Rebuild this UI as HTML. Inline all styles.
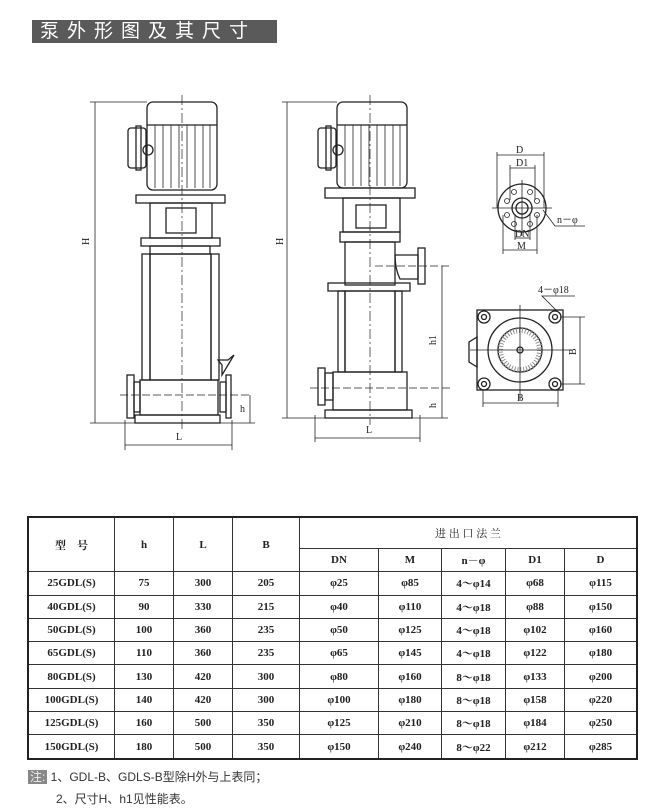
<!DOCTYPE html>
<html><head><meta charset="utf-8"><style>
body{margin:0;width:656px;height:811px;background:#fff;position:relative;overflow:hidden;font-family:"Liberation Serif","Noto Serif CJK SC",serif;}
.ban{position:absolute;left:32px;top:20px;width:245px;height:23px;background:#5a5a5a;color:#fff;font-family:"Liberation Sans","Noto Sans CJK SC",sans-serif;font-size:19px;line-height:23px;letter-spacing:8px;text-indent:8px;}
table{position:absolute;left:27px;top:516px;border-collapse:collapse;font-size:11px;font-weight:bold;color:#222;}
td{border:1px solid #333;text-align:center;padding:0;height:22.3px;}
table{border:2px solid #222;}
.n{position:absolute;left:28px;font-family:"Liberation Sans","Noto Sans CJK SC",sans-serif;font-size:12px;color:#333;}
</style></head><body>
<div class="ban">泵外形图及其尺寸</div>
<svg width="656" height="500" style="position:absolute;left:0;top:0" fill="none" stroke="#222" stroke-width="1.3" font-family="Liberation Serif" font-size="10">
<!-- Pump 1 -->
<rect x="147" y="102" width="70" height="88" rx="6"/>
<line x1="147" y1="125" x2="217" y2="125"/>
<g stroke-width="0.8"><line x1="155" y1="125" x2="155" y2="188"/><line x1="163" y1="125" x2="163" y2="188"/><line x1="171" y1="125" x2="171" y2="188"/><line x1="179" y1="125" x2="179" y2="188"/><line x1="187" y1="125" x2="187" y2="188"/><line x1="195" y1="125" x2="195" y2="188"/><line x1="203" y1="125" x2="203" y2="188"/><line x1="210" y1="125" x2="210" y2="188"/></g>
<rect x="128" y="128" width="18" height="40" rx="3"/><rect x="136" y="126" width="5" height="44"/><circle cx="148" cy="150" r="5"/>
<rect x="136" y="195" width="89" height="8"/><rect x="150" y="203" width="62" height="35"/><rect x="166" y="208" width="30" height="25"/>
<rect x="141" y="238" width="79" height="8"/><rect x="150" y="246" width="60" height="8"/>
<rect x="142" y="254" width="8" height="126"/><rect x="211" y="254" width="8" height="126"/><rect x="150" y="254" width="61" height="126"/>
<rect x="140" y="380" width="78" height="35"/><rect x="135" y="415" width="85" height="8"/>
<rect x="127" y="375" width="7" height="43"/><rect x="134" y="382" width="6" height="30"/>
<rect x="220" y="382" width="6" height="30"/><rect x="226" y="375" width="5" height="43"/>
<path d="M222 375 v-10 l-4 -5 h10 l6 -5 l-6 10 z"/>
<line x1="182" y1="95" x2="182" y2="430" stroke-dasharray="10 3 2 3" stroke-width="0.7"/>
<line x1="120" y1="395" x2="250" y2="395" stroke-dasharray="8 3" stroke-width="0.7"/>
<g stroke-width="0.8"><line x1="95" y1="102" x2="95" y2="423"/><line x1="90" y1="102" x2="147" y2="102"/><line x1="90" y1="423" x2="140" y2="423"/>
<line x1="125" y1="445" x2="232" y2="445"/><line x1="125" y1="420" x2="125" y2="450"/><line x1="232" y1="420" x2="232" y2="450"/>
<line x1="250" y1="395" x2="250" y2="423"/><line x1="220" y1="423" x2="255" y2="423"/></g>
<g fill="#222" stroke="none"><text x="89" y="245" transform="rotate(-90 89 245)">H</text><text x="176" y="440">L</text><text x="240" y="412">h</text></g>
<!-- Pump 2 -->
<rect x="337" y="102" width="70" height="86" rx="6"/>
<line x1="337" y1="125" x2="407" y2="125"/>
<g stroke-width="0.8"><line x1="345" y1="125" x2="345" y2="186"/><line x1="353" y1="125" x2="353" y2="186"/><line x1="361" y1="125" x2="361" y2="186"/><line x1="369" y1="125" x2="369" y2="186"/><line x1="377" y1="125" x2="377" y2="186"/><line x1="385" y1="125" x2="385" y2="186"/><line x1="393" y1="125" x2="393" y2="186"/><line x1="400" y1="125" x2="400" y2="186"/></g>
<rect x="318" y="128" width="18" height="40" rx="3"/><rect x="326" y="126" width="5" height="44"/><circle cx="338" cy="150" r="5"/>
<rect x="325" y="188" width="90" height="10"/><rect x="343" y="198" width="57" height="34"/><rect x="356" y="205" width="30" height="23"/>
<rect x="340" y="232" width="60" height="10"/><rect x="345" y="242" width="50" height="43"/>
<path d="M395 255 h23 v24 h-18 q-5 -10 -5 -24"/><rect x="418" y="248" width="7" height="36"/>
<rect x="328" y="283" width="82" height="8"/><rect x="338" y="291" width="7" height="81"/><rect x="395" y="291" width="7" height="81"/><rect x="345" y="291" width="50" height="81"/>
<rect x="333" y="372" width="74" height="38"/><rect x="325" y="410" width="87" height="8"/>
<rect x="318" y="368" width="7" height="37"/><rect x="325" y="373" width="8" height="27"/>
<line x1="370" y1="95" x2="370" y2="425" stroke-dasharray="10 3 2 3" stroke-width="0.7"/>
<line x1="310" y1="388" x2="450" y2="388" stroke-dasharray="8 3" stroke-width="0.7"/>
<line x1="375" y1="266" x2="450" y2="266" stroke-dasharray="8 3" stroke-width="0.7"/>
<g stroke-width="0.8"><line x1="287" y1="102" x2="287" y2="418"/><line x1="282" y1="102" x2="337" y2="102"/><line x1="282" y1="418" x2="325" y2="418"/>
<line x1="442" y1="266" x2="442" y2="418"/><line x1="412" y1="418" x2="448" y2="418"/>
<line x1="315" y1="438" x2="420" y2="438"/><line x1="315" y1="415" x2="315" y2="442"/><line x1="420" y1="415" x2="420" y2="442"/></g>
<g fill="#222" stroke="none"><text x="283" y="245" transform="rotate(-90 283 245)">H</text><text x="436" y="345" transform="rotate(-90 436 345)">h1</text><text x="436" y="408" transform="rotate(-90 436 408)">h</text><text x="366" y="433">L</text></g>
<!-- flange view -->
<circle cx="522" cy="208" r="24"/><circle cx="522" cy="208" r="10"/><circle cx="522" cy="208" r="6"/>
<g stroke-width="0.8"><circle cx="514" cy="192" r="2.5"/><circle cx="530" cy="192" r="2.5"/><circle cx="507" cy="201" r="2.5"/><circle cx="537" cy="201" r="2.5"/><circle cx="507" cy="215" r="2.5"/><circle cx="537" cy="215" r="2.5"/><circle cx="514" cy="224" r="2.5"/><circle cx="530" cy="224" r="2.5"/>
<line x1="492" y1="208" x2="552" y2="208"/><line x1="522" y1="180" x2="522" y2="236"/>
<line x1="497" y1="155" x2="544" y2="155"/><line x1="497" y1="152" x2="497" y2="208"/><line x1="544" y1="152" x2="544" y2="208"/>
<line x1="510" y1="168" x2="535" y2="168"/><line x1="510" y1="165" x2="510" y2="200"/><line x1="535" y1="165" x2="535" y2="200"/>
<line x1="515" y1="238" x2="530" y2="238"/><line x1="515" y1="214" x2="515" y2="240"/><line x1="530" y1="214" x2="530" y2="240"/>
<line x1="503" y1="250" x2="537" y2="250"/><line x1="503" y1="215" x2="503" y2="254"/><line x1="537" y1="215" x2="537" y2="254"/>
<polyline points="543,210 555,226 585,226"/></g>
<g fill="#222" stroke="none" font-size="10"><text x="516" y="153">D</text><text x="516" y="166">D1</text><text x="515" y="237">DN</text><text x="517" y="249">M</text><text x="557" y="223">n－φ</text></g>
<!-- base view -->
<rect x="477" y="310" width="86" height="80"/>
<circle cx="520" cy="350" r="32"/><circle cx="520" cy="350" r="22"/>
<circle cx="520" cy="350" r="20" stroke="#888" stroke-width="6" stroke-dasharray="1 2"/>
<circle cx="520" cy="350" r="3"/>
<g><circle cx="484" cy="317" r="6"/><circle cx="484" cy="317" r="2.5"/><circle cx="555" cy="317" r="6"/><circle cx="555" cy="317" r="2.5"/><circle cx="484" cy="384" r="6"/><circle cx="484" cy="384" r="2.5"/><circle cx="555" cy="384" r="6"/><circle cx="555" cy="384" r="2.5"/></g>
<path d="M477 337 l-8 5 v20 l8 5 z" />
<g stroke-width="0.8"><line x1="470" y1="350" x2="570" y2="350"/><line x1="520" y1="305" x2="520" y2="400"/>
<line x1="580" y1="317" x2="580" y2="384"/><line x1="560" y1="317" x2="585" y2="317"/><line x1="560" y1="384" x2="585" y2="384"/>
<line x1="483" y1="403" x2="558" y2="403"/><line x1="483" y1="390" x2="483" y2="407"/><line x1="558" y1="390" x2="558" y2="407"/>
<polyline points="558,312 542,296 575,296"/></g>
<g fill="#222" stroke="none" font-size="10"><text x="538" y="293">4－φ18</text><text x="576" y="355" transform="rotate(-90 576 355)">B</text><text x="517" y="401">B</text></g>
</svg>
<table>
<tr><td rowspan="2" style="width:85px">型　号</td><td rowspan="2" style="width:58px">h</td><td rowspan="2" style="width:58px">L</td><td rowspan="2" style="width:66px">B</td><td colspan="5" style="height:30px;font-weight:normal">进 出 口 法 兰</td></tr>
<tr><td style="width:78px">DN</td><td style="width:62px">M</td><td style="width:63px">n－φ</td><td style="width:58px">D1</td><td style="width:71px">D</td></tr>
<tr><td>25GDL(S)</td><td>75</td><td>300</td><td>205</td><td>φ25</td><td>φ85</td><td>4～φ14</td><td>φ68</td><td>φ115</td></tr>
<tr><td>40GDL(S)</td><td>90</td><td>330</td><td>215</td><td>φ40</td><td>φ110</td><td>4～φ18</td><td>φ88</td><td>φ150</td></tr>
<tr><td>50GDL(S)</td><td>100</td><td>360</td><td>235</td><td>φ50</td><td>φ125</td><td>4～φ18</td><td>φ102</td><td>φ160</td></tr>
<tr><td>65GDL(S)</td><td>110</td><td>360</td><td>235</td><td>φ65</td><td>φ145</td><td>4～φ18</td><td>φ122</td><td>φ180</td></tr>
<tr><td>80GDL(S)</td><td>130</td><td>420</td><td>300</td><td>φ80</td><td>φ160</td><td>8～φ18</td><td>φ133</td><td>φ200</td></tr>
<tr><td>100GDL(S)</td><td>140</td><td>420</td><td>300</td><td>φ100</td><td>φ180</td><td>8～φ18</td><td>φ158</td><td>φ220</td></tr>
<tr><td>125GDL(S)</td><td>160</td><td>500</td><td>350</td><td>φ125</td><td>φ210</td><td>8～φ18</td><td>φ184</td><td>φ250</td></tr>
<tr><td>150GDL(S)</td><td>180</td><td>500</td><td>350</td><td>φ150</td><td>φ240</td><td>8～φ22</td><td>φ212</td><td>φ285</td></tr>
</table>
<div class="n" style="top:768px"><span style="background:#888;color:#eee;padding:0 2px">注:</span> 1、GDL-B、GDLS-B型除H外与上表同；</div>
<div class="n" style="top:790px;left:56px">2、尺寸H、h1见性能表。</div>
</body></html>
